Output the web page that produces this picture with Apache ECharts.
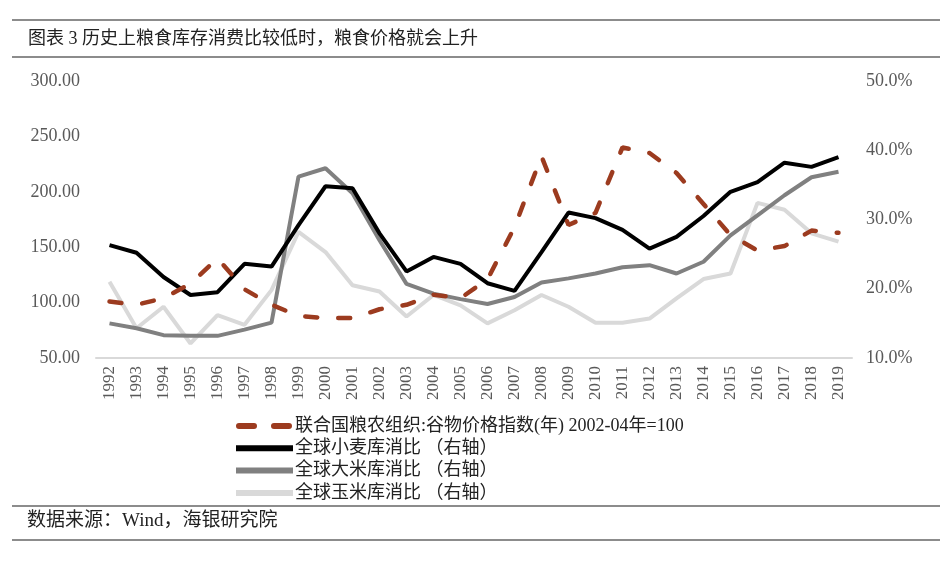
<!DOCTYPE html>
<html>
<head>
<meta charset="utf-8">
<script src="https://cdn.jsdelivr.net/npm/echarts@6/dist/echarts.min.js"></script>
<style>
  html,body{margin:0;padding:0;background:#fff;}
  #main{width:952px;height:567px;}
</style>
</head>
<body>
<div id="main"></div>
<script>
var years = ['1992','1993','1994','1995','1996','1997','1998','1999','2000','2001',
  '2002','2003','2004','2005','2006','2007','2008','2009','2010','2011',
  '2012','2013','2014','2015','2016','2017','2018','2019'];
// FAO cereal price index, left axis
var priceIndex = [101,98,104,117,140,112,98,88,86,86,
  94,98,107,104,121,168,232,170,181,240,
  235,217,189,161,147,151,165,163];
// stock-to-use ratios (%), right axis
var wheatRatio = [26.3,25.2,21.7,19.1,19.5,23.6,23.2,29.2,34.8,34.5,
  28.0,22.5,24.6,23.6,20.8,19.7,25.3,31.0,30.2,28.5,
  25.8,27.5,30.5,34.0,35.4,38.2,37.6,39.0];
var riceRatio = [15.0,14.3,13.3,13.2,13.2,14.1,15.1,36.2,37.4,33.8,
  27.0,20.7,19.3,18.5,17.8,18.8,20.9,21.5,22.2,23.1,
  23.4,22.2,23.9,27.7,30.6,33.5,36.1,36.9];
var cornRatio = [21.0,14.3,17.4,12.1,16.2,14.8,19.8,28.2,25.3,20.5,
  19.6,16.0,19.1,17.6,15.0,16.9,19.1,17.4,15.1,15.1,
  15.7,18.6,21.4,22.2,32.4,31.4,28.0,26.8];
var seriesNames = ['联合国粮农组织:谷物价格指数(年) 2002-04年=100',
  '全球小麦库消比 （右轴）','全球大米库消比 （右轴）','全球玉米库消比 （右轴）'];
var titleText = '图表 3 历史上粮食库存消费比较低时，粮食价格就会上升';
var sourceText = '数据来源：Wind，海银研究院';

var serifFont = '"Liberation Serif","Noto Sans CJK SC",serif';
var chart = echarts.init(document.getElementById('main'), null, {renderer:'canvas'});

var option = {
  backgroundColor:'#fff',
  animation:false,
  title:[
    {text:titleText,left:23,top:25,
      textStyle:{fontSize:18,fontWeight:'normal',color:'#222',fontFamily:serifFont}},
    {text:sourceText,left:22,top:507,
      textStyle:{fontSize:19,fontWeight:'normal',color:'#222',fontFamily:serifFont}}
  ],
  graphic:[
    {type:'line',shape:{x1:12,y1:20,x2:940,y2:20},style:{stroke:'#8c8c8c',lineWidth:2}},
    {type:'line',shape:{x1:12,y1:57,x2:940,y2:57},style:{stroke:'#8c8c8c',lineWidth:2}},
    {type:'line',shape:{x1:12,y1:506,x2:940,y2:506},style:{stroke:'#8c8c8c',lineWidth:2}},
    {type:'line',shape:{x1:12,y1:540,x2:940,y2:540},style:{stroke:'#8c8c8c',lineWidth:2}}
  ],
  legend:{
    orient:'vertical',
    left:228,
    top:412,
    itemWidth:57,
    itemHeight:12,
    itemGap:4.3,
    lineStyle:{width:6},
    itemStyle:{opacity:0},
    textStyle:{fontSize:18,lineHeight:18,color:'#222',fontFamily:serifFont,padding:[0,0,0,-3]},
    data:[
      {name:seriesNames[0],lineStyle:{type:[15,20],cap:'round',dashOffset:-3}},
      seriesNames[1],seriesNames[2],seriesNames[3]
    ]
  },
  grid:{left:96,right:100,top:81,bottom:209},
  xAxis:{
    type:'category',
    data:years,
    boundaryGap:true,
    axisLine:{lineStyle:{color:'#d9d9d9',width:2}},
    axisTick:{show:false},
    axisLabel:{rotate:90,fontSize:17,color:'#595959',fontFamily:serifFont,margin:8,interval:0}
  },
  yAxis:[
    {type:'value',min:50,max:300,interval:50,
      splitLine:{show:false},axisLine:{show:false},axisTick:{show:false},
      axisLabel:{fontSize:18,color:'#595959',fontFamily:serifFont,margin:16,
        formatter:function(v){return v.toFixed(2);}}},
    {type:'value',min:10,max:50,interval:10,
      splitLine:{show:false},axisLine:{show:false},axisTick:{show:false},
      axisLabel:{fontSize:18,color:'#595959',fontFamily:serifFont,margin:14,
        formatter:function(v){return v.toFixed(1)+'%';}}}
  ],
  series:[
    {name:seriesNames[0],type:'line',yAxisIndex:0,data:priceIndex,symbol:'none',z:5,
      itemStyle:{color:'#9c3b1f'},
      lineStyle:{color:'#9c3b1f',width:4.5,type:[12,21],cap:'round'}},
    {name:seriesNames[1],type:'line',yAxisIndex:1,data:wheatRatio,symbol:'none',z:4,
      itemStyle:{color:'#000'},lineStyle:{color:'#000',width:4}},
    {name:seriesNames[2],type:'line',yAxisIndex:1,data:riceRatio,symbol:'none',z:3,
      itemStyle:{color:'#808080'},lineStyle:{color:'#808080',width:4}},
    {name:seriesNames[3],type:'line',yAxisIndex:1,data:cornRatio,symbol:'none',z:2,
      itemStyle:{color:'#d9d9d9'},lineStyle:{color:'#d9d9d9',width:4}}
  ]
};
chart.setOption(option);
</script>
</body>
</html>
